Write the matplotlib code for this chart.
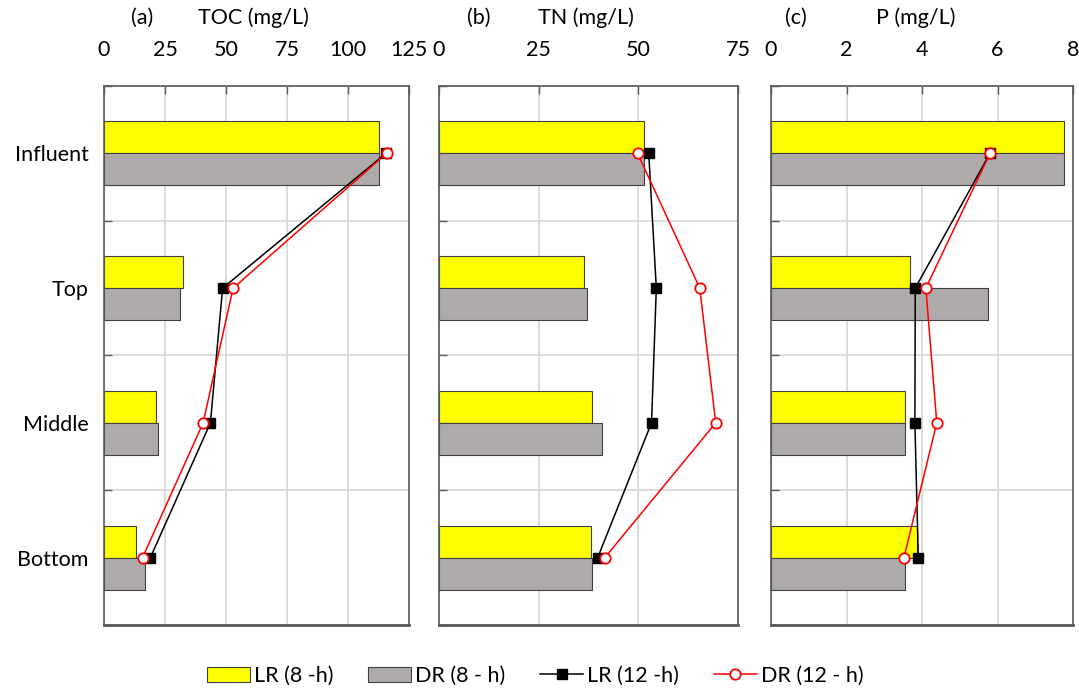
import matplotlib
matplotlib.use("Agg")
import matplotlib.pyplot as plt
import numpy as np
from matplotlib.patches import Patch
from matplotlib.lines import Line2D

plt.rcParams["font.family"] = ["Lato", "DejaVu Sans"]

# data
zones = ["Influent", "Top", "Middle", "Bottom"]

toc_lr8 = [112.7, 32.5, 21.4, 13.2]
toc_dr8 = [112.7, 31.1, 22.3, 16.6]
toc_lr12 = [115.5, 48.6, 43.6, 19.0]
toc_dr12 = [115.8, 52.9, 40.6, 15.8]

tn_lr8 = [51.3, 36.4, 38.4, 38.2]
tn_dr8 = [51.3, 37.0, 40.8, 38.3]
tn_lr12 = [52.6, 54.5, 53.3, 39.8]
tn_dr12 = [49.8, 65.4, 69.4, 41.6]

p_lr8 = [7.75, 3.68, 3.54, 3.87]
p_dr8 = [7.75, 5.74, 3.54, 3.54]
p_lr12 = [5.8, 3.82, 3.81, 3.9]
p_dr12 = [5.8, 4.1, 4.39, 3.52]

panels = [
    ("(a)", "TOC (mg/L)", 125, [0, 25, 50, 75, 100, 125], toc_lr8, toc_dr8, toc_lr12, toc_dr12),
    ("(b)", "TN (mg/L)", 75, [0, 25, 50, 75], tn_lr8, tn_dr8, tn_lr12, tn_dr12),
    ("(c)", "P (mg/L)", 8, [0, 2, 4, 6, 8], p_lr8, p_dr8, p_lr12, p_dr12),
]

YELLOW = "#FFFF00"
GREY = "#AEAAAA"
GRID = "#D9D9D9"
SPINE = "#595959"
FS = 15.5

fig = plt.figure(figsize=(10.79, 6.88), dpi=100)
lefts = [0.0964, 0.4069, 0.7146]
widths = [0.2827, 0.2771, 0.2799]
# x position (axes fraction) of the panel tag and of the quantity name
tag_x = [0.124, 0.134, 0.083]
name_x = [0.49, 0.49, 0.48]

y = np.arange(len(zones))
h = 0.237

for i, (tag, name, xmax, ticks, lr8, dr8, lr12, dr12) in enumerate(panels):
    ax = fig.add_axes([lefts[i], 0.0916, widths[i], 0.7834])
    ax.barh(y - h / 2, lr8, height=h, color=YELLOW, edgecolor="#404040", linewidth=0.8, zorder=2)
    ax.barh(y + h / 2, dr8, height=h, color=GREY, edgecolor="#404040", linewidth=0.8, zorder=2)
    ax.plot(lr12, y, color="black", lw=1.1, marker="s", ms=6.5, mfc="black", mec="black", zorder=3)
    ax.plot(dr12, y, color="#FF0000", lw=1.1, marker="o", ms=7.5, mfc="white", mec="#FF0000",
            mew=1.3, zorder=4)

    ax.set_xlim(0, xmax)
    ax.set_ylim(3.5, -0.5)
    ax.xaxis.tick_top()
    ax.set_xticks(ticks)
    ax.set_xticklabels([str(t) for t in ticks])
    ax.tick_params(axis="x", direction="in", length=6, width=1, color=SPINE, pad=19, labelsize=FS)
    ax.set_yticks(y)
    ax.set_yticks(np.arange(-0.5, 3.6, 1.0), minor=True)
    ax.tick_params(axis="y", which="major", length=0, pad=11, labelsize=FS)
    ax.tick_params(axis="y", which="minor", direction="in", length=6, width=1, color=SPINE)
    if i == 0:
        ax.set_yticklabels(zones)
    else:
        ax.set_yticklabels([])
    ax.grid(axis="x", color=GRID, lw=1.3, zorder=0)
    ax.grid(axis="y", which="minor", color=GRID, lw=1.3, zorder=0)
    ax.set_axisbelow(True)
    for s in ax.spines.values():
        s.set_color(SPINE)
        s.set_linewidth(1.2)
    ax.spines["bottom"].set_linewidth(2)

    ax.text(tag_x[i], 1.127, tag, transform=ax.transAxes, ha="center", va="center", fontsize=FS)
    ax.text(name_x[i], 1.127, name, transform=ax.transAxes, ha="center", va="center", fontsize=FS)

handles = [
    Patch(facecolor=YELLOW, edgecolor="#404040", linewidth=0.8),
    Patch(facecolor=GREY, edgecolor="#404040", linewidth=0.8),
    Line2D([], [], color="black", lw=1.1, marker="s", ms=6.5),
    Line2D([], [], color="#FF0000", lw=1.1, marker="o", ms=7.5, mfc="white", mew=1.3),
]
labels = ["LR (8 -h)", "DR (8 - h)", "LR (12 -h)", "DR (12 - h)"]
fig.legend(handles, labels, loc="center", bbox_to_anchor=(0.496, 0.018), ncol=4, frameon=False,
           fontsize=FS, handlelength=2.0, handletextpad=0.2, columnspacing=1.6)

fig.savefig("out.png", dpi=100)
